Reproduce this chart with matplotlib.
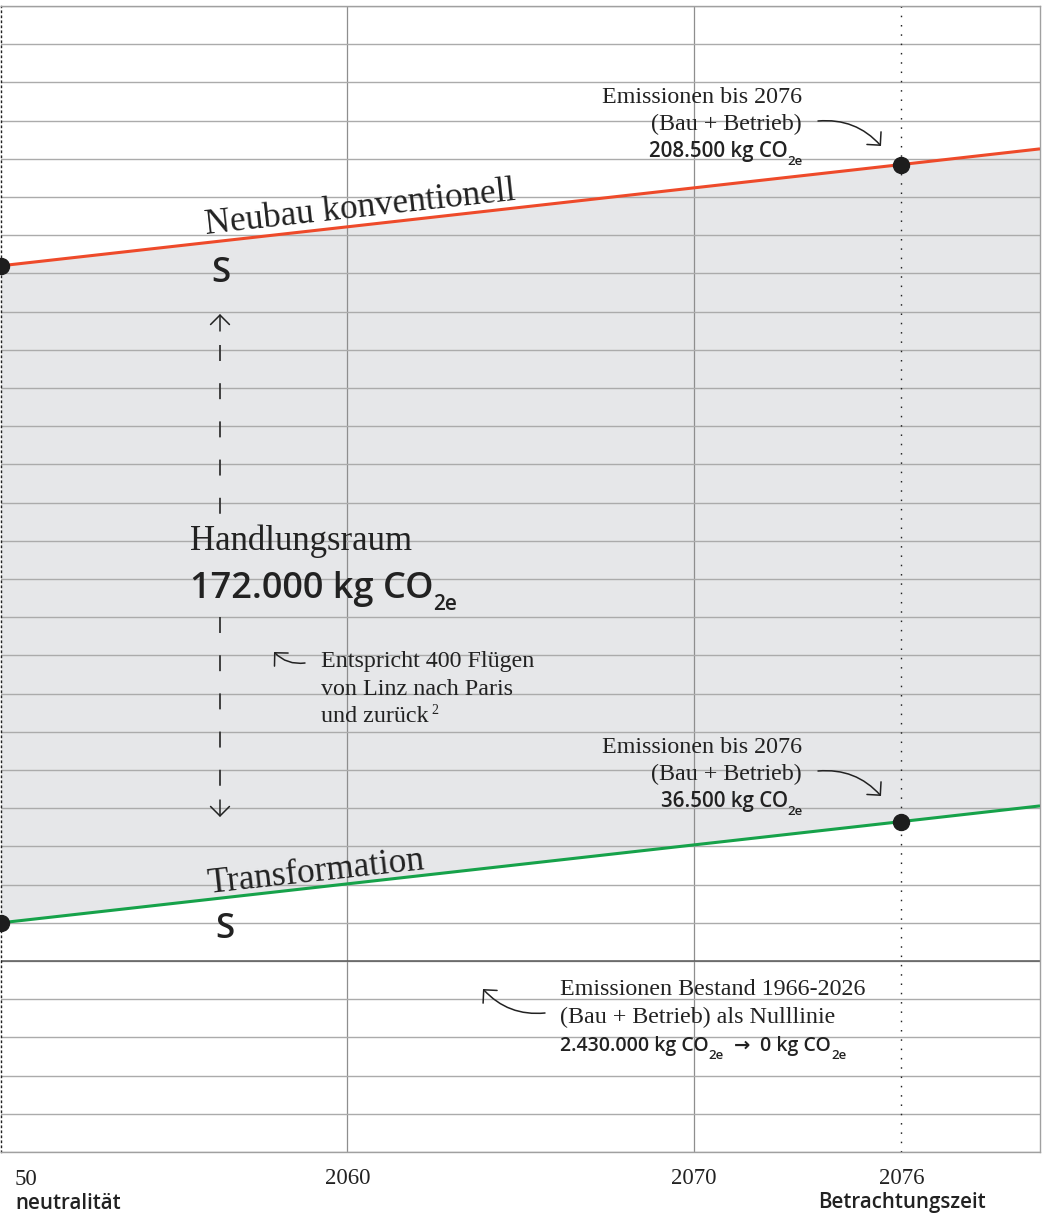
import matplotlib
matplotlib.use("Agg")
import matplotlib.pyplot as plt
import matplotlib.transforms as mtransforms
from matplotlib.patches import FancyArrowPatch
from matplotlib.lines import Line2D
from matplotlib.font_manager import FontProperties
import numpy as np

plt.rcParams["lines.scale_dashes"] = False

# --- data -------------------------------------------------------------
years = [2050, 2076, 2080]
neubau = [182000, 208500, 212600]          # kg CO2e, Neubau konventionell
transformation = [10000, 36500, 40600]     # kg CO2e, Transformation
handlungsraum = neubau[0] - transformation[0]
bestand = 2430000                          # Emissionen Bestand 1966-2026
flights = 400
tick_years = [2060, 2070, 2076]
start_year, horizon_year = 2050, 2076


def de(n):
    return f"{n:,}".replace(",", ".")


SERIF = ["Liberation Serif", "DejaVu Serif"]
SANS = ["Open Sans", "DejaVu Sans"]


def serif(size):
    return FontProperties(family=SERIF, size=size)


def sans(size):
    return FontProperties(family=SANS, size=size, weight="semibold")


W, H = 1048, 1217
fig = plt.figure(figsize=(W / 100, H / 100), dpi=100)
fig.patch.set_facecolor("white")
ax = fig.add_axes([1 / W, 1 - 1152 / H, 1039 / W, 1146 / H])
# pixel coordinates with origin at the top-left corner of the figure
pix = mtransforms.Affine2D().scale(1 / W, -1 / H).translate(0, 1) + fig.transFigure
renderer = fig.canvas.get_renderer()

# --- axes frame and grid ----------------------------------------------
ax.set_xlim(2050, 2080)
ax.set_ylim(-50000, 250000)
ax.set_yticks(np.arange(-50000, 250001, 10000))
ax.set_xticks([2060, 2070])
ax.set_axisbelow("line")
ax.grid(axis="y", color="#ababab", lw=1.0)
ax.grid(axis="x", color="#8e8e8e", lw=0.9)
ax.tick_params(length=0, labelbottom=False, labelleft=False)
for side in ("top", "bottom", "right"):
    ax.spines[side].set_color("#a0a0a0")
    ax.spines[side].set_linewidth(1.0)
ax.spines["left"].set_color("#222222")
ax.spines["left"].set_linewidth(1.0)
ax.spines["left"].set_linestyle((0, (1, 2.6)))
ax.axhline(0, color="#5a5a5a", lw=1.1, zorder=1.6)
ax.axvline(horizon_year, color="#222222", lw=1.0, ls=(0, (1.1, 5.6)), zorder=1.7)

# --- corridor and the two paths ---------------------------------------
ax.fill_between(years, transformation, neubau, color="#e6e7e9", lw=0, zorder=1)
ax.plot(years, neubau, color="#ee4a2a", lw=2.2, zorder=3, solid_capstyle="butt")
ax.plot(years, transformation, color="#16a24a", lw=2.2, zorder=3, solid_capstyle="butt")
for series in (neubau, transformation):
    ax.plot(years[:2], series[:2], "o", color="#1d1d1d", ms=11.5, zorder=4, clip_on=False)


# --- text helpers -----------------------------------------------------
def rich(x, y, pieces, ha="left"):
    """Lay out (text, fontprops, dy) pieces side by side on one baseline;
    a plain number in the list is a horizontal gap in pixels."""
    items = []
    for p in pieces:
        if isinstance(p, (int, float)):
            items.append((None, p))
            continue
        txt, prop, dy = p
        t = fig.text(0, 0, txt, transform=pix, fontproperties=prop,
                     ha="left", va="baseline", color="#222222")
        items.append(((t, dy), t.get_window_extent(renderer).width))
    x0 = x - sum(w for _, w in items) if ha == "right" else x
    for art, w in items:
        if art is not None:
            t, dy = art
            t.set_position((x0, y + dy))
        x0 += w


def co2(value_text, size, sub_size=9.5, sub_dy=8):
    return [(value_text + " kg CO", sans(size), 0), ("2e", sans(sub_size), sub_dy)]


def label(x, y, txt, prop, ha="left", **kw):
    fig.text(x, y, txt, transform=pix, fontproperties=prop, ha=ha,
             va="baseline", color="#222222", **kw)


def curved_arrow(tail, tip, rad=-0.25):
    fig.add_artist(FancyArrowPatch(
        tail, tip, transform=pix, connectionstyle=f"arc3,rad={rad}",
        arrowstyle="->,head_length=6.8,head_width=6.8", mutation_scale=1,
        lw=1.1, color="#222222", shrinkA=0, shrinkB=0))


# path names along the lines
label(206, 234, "Neubau konventionell", serif(25.4), rotation=6.3, rotation_mode="anchor")
label(208, 893, "Transformation", serif(25.4), rotation=6.3, rotation_mode="anchor")
label(221, 282, "S", sans(25), ha="center")
label(225, 938, "S", sans(25), ha="center")

# emissions at the end of the horizon
for y0, val in ((103, neubau[1]), (753, transformation[1])):
    rich(802, y0, [(f"Emissionen bis {horizon_year}", serif(17.3), 0)], ha="right")
    rich(802, y0 + 27, [("(Bau + Betrieb)", serif(17.3), 0)], ha="right")
    rich(803, y0 + 54, co2(de(val), 14.8), ha="right")
    curved_arrow((818, y0 + 18), (881, y0 + 43))

# scope for action between the two paths
label(190, 550, "Handlungsraum", serif(25))
rich(190, 598, co2(de(handlungsraum), 26, sub_size=15, sub_dy=12))

dash = (0, (11.5, 16))
fig.add_artist(Line2D([220, 220], [345, 514], transform=pix, lw=1.3, color="#333333", ls=dash))
fig.add_artist(Line2D([220, 220], [617, 788], transform=pix, lw=1.3, color="#333333", ls=dash))
for tail, tip in (((220, 331), (220, 314)), ((220, 800), (220, 817))):
    fig.add_artist(FancyArrowPatch(tail, tip, transform=pix,
                                   arrowstyle="->,head_length=6.8,head_width=6.8",
                                   mutation_scale=1, lw=1.1, color="#222222",
                                   shrinkA=0, shrinkB=0))

label(321, 667, f"Entspricht {flights} Flügen", serif(17.3))
label(321, 695, "von Linz nach Paris", serif(17.3))
rich(321, 722, [("und zurück", serif(17.3), 0), 3, ("2", serif(10), -8)])
curved_arrow((305, 663), (274, 652))

# existing building as zero line
label(560, 995, "Emissionen Bestand 1966-2026", serif(17.3))
label(560, 1023, "(Bau + Betrieb) als Nulllinie", serif(17.3))
rich(560, 1051, co2(de(bestand), 14) + [10, ("\u2192", sans(14), 0), 10] + co2("0", 14))
curved_arrow((545, 1013), (483, 989))

# x-axis labels
xlab = mtransforms.blended_transform_factory(ax.transData, pix)
for yr in tick_years:
    fig.text(yr, 1184, str(yr), transform=xlab, fontproperties=serif(16.5),
             ha="center", va="baseline", color="#222222")
fig.text(horizon_year, 1208, "Betrachtungszeit", transform=xlab, fontproperties=sans(14.8),
         ha="center", va="baseline", color="#222222")
label(15, 1185, str(start_year)[2:], serif(16.5))
label(15, 1209, "neutralität", sans(14.8))

fig.savefig("out.png", dpi=100)
